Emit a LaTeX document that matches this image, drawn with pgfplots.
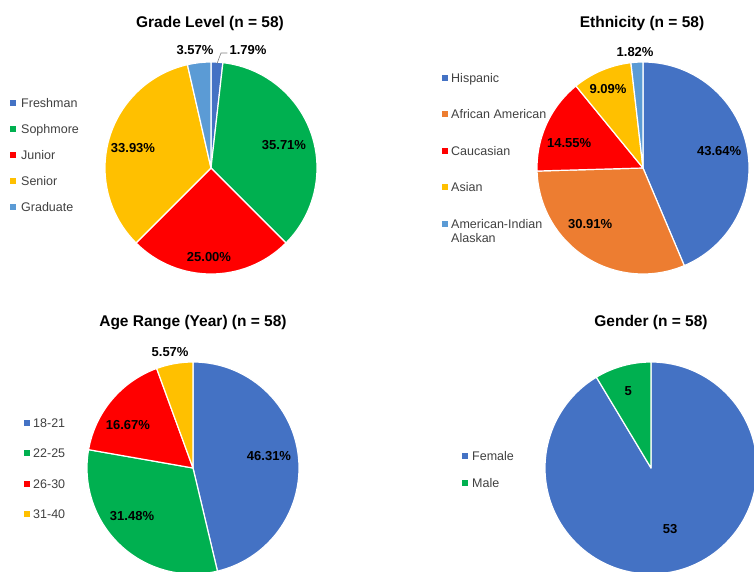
\documentclass[border=0pt]{standalone}
\usepackage{pgfplots}
\usepackage{pgfplotstable}
\pgfplotsset{compat=1.18}
\usepackage{fontspec}
\setmainfont{Liberation Sans}

\definecolor{pieblue}{HTML}{4472C4}
\definecolor{piegreen}{HTML}{00B050}
\definecolor{piered}{HTML}{FF0000}
\definecolor{pieyellow}{HTML}{FFC000}
\definecolor{pielight}{HTML}{5B9BD5}
\definecolor{pieorange}{HTML}{ED7D31}
\definecolor{legtext}{HTML}{404040}

% value, slice colour, label radius (pie radii), label angle (deg)
\pgfplotstableread[col sep=comma]{
value,color,lr,la
1.79,pieblue,1.167,72.6
35.71,piegreen,0.722,17.5
25.00,piered,0.840,-91.3
33.93,pieyellow,0.760,165.6
3.57,pielight,1.123,97.7
}\gradetable

\pgfplotstableread[col sep=comma]{
value,color,lr,la
43.64,pieblue,0.736,12.6
30.91,pieorange,0.726,-133.4
14.55,piered,0.736,161.3
9.09,pieyellow,0.815,113.9
1.82,pielight,1.097,93.9
}\ethnictable

\pgfplotstableread[col sep=comma]{
value,color,lr,la
46.31,pieblue,0.726,9.0
31.48,piegreen,0.732,-141.8
16.67,piered,0.736,146.5
5.57,pieyellow,1.113,101.2
}\agetable

\pgfplotstableread[col sep=comma]{
value,color,lr,la
53,pieblue,0.604,-72.7
5,piegreen,0.755,106.6
}\gendertable

\newcommand{\titlefont}{\fontsize{15.5}{18}\selectfont\bfseries}
\newcommand{\labelfont}{\fontsize{13}{15}\selectfont\bfseries}
\newcommand{\legendfont}{\fontsize{12.5}{14.5}\selectfont}

% Slices run clockwise from 12 o'clock; #2 is appended to each value label
\newcommand{\drawpie}[2]{%
  \pgfplotsextra{%
    \pgfplotstablegetrowsof{#1}%
    \pgfmathtruncatemacro\lastrow{\pgfplotsretval-1}%
    \def\pietotal{0}%
    \pgfplotsforeachungrouped \r in {0,...,\lastrow}{%
      \pgfplotstablegetelem{\r}{value}\of{#1}%
      \pgfmathsetmacro\pietotal{\pietotal+\pgfplotsretval}%
    }%
    \def\pieangle{90}%
    \pgfplotsforeachungrouped \r in {0,...,\lastrow}{%
      \pgfplotstablegetelem{\r}{value}\of{#1}\let\pieval\pgfplotsretval
      \pgfplotstablegetelem{\r}{color}\of{#1}\let\piecol\pgfplotsretval
      \pgfmathsetmacro\piefrac{\pieval/\pietotal}%
      \pgfmathsetmacro\endangle{\pieangle-360*\piefrac}%
      \pgfmathsetmacro\sx{cos(\pieangle)}%
      \pgfmathsetmacro\sy{sin(\pieangle)}%
      \filldraw[fill=\piecol, draw=white, line width=1.2pt, line join=round]
        (axis cs:0,0) -- (axis cs:\sx,\sy)
        arc[start angle=\pieangle, end angle=\endangle, radius=106pt] -- cycle;
      \let\pieangle\endangle
    }%
    \pgfplotsforeachungrouped \r in {0,...,\lastrow}{%
      \pgfplotstablegetelem{\r}{value}\of{#1}\let\pieval\pgfplotsretval
      \pgfplotstablegetelem{\r}{lr}\of{#1}\let\pielr\pgfplotsretval
      \pgfplotstablegetelem{\r}{la}\of{#1}\let\piela\pgfplotsretval
      \pgfmathsetmacro\lx{\pielr*cos(\piela)}%
      \pgfmathsetmacro\ly{\pielr*sin(\piela)}%
      \node[font=\labelfont, text=black, inner sep=0pt] at (axis cs:\lx,\ly) {\pieval#2};
    }%
  }%
}

\pgfplotsset{
  pieaxis/.style={
    anchor=center, x=106pt, y=106pt,
    xmin=-1, xmax=1, ymin=-1, ymax=1,
    hide axis, clip=false,
  },
}

\begin{document}
\begin{tikzpicture}[x=1pt, y=1pt]
\useasboundingbox (0,0) rectangle (754,571);
\clip (0,0) rectangle (754,571);

% ---- Grade level ----
\node[font=\titlefont] at (210,548) {Grade Level (n = 58)};
\begin{axis}[pieaxis, at={(211pt,403pt)}]
  \drawpie{\gradetable}{\%}
  \draw[gray, line width=0.6pt] (axis cs:0.057,0.985) -- (axis cs:0.094,1.085) -- (axis cs:0.155,1.085);
\end{axis}
\foreach \yy/\cc/\lbl in {468/pieblue/Freshman, 442/piegreen/Sophmore, 416/piered/Junior, 390/pieyellow/Senior, 364/pielight/Graduate}{
  \fill[\cc] (10,\yy-3) rectangle (16,\yy+3);
  \node[font=\legendfont, text=legtext, anchor=north west, inner sep=0pt] at (21,\yy+4.8) {\lbl};
}

% ---- Ethnicity ----
\node[font=\titlefont] at (642,548) {Ethnicity (n = 58)};
\begin{axis}[pieaxis, at={(643pt,403pt)}]
  \drawpie{\ethnictable}{\%}
\end{axis}
\foreach \yy/\cc/\lbl in {493/pieblue/Hispanic, 457/pieorange/African American, 420/piered/Caucasian, 384/pieyellow/Asian, 347/pielight/{American-Indian\\Alaskan}}{
  \fill[\cc] (442,\yy-3) rectangle (448,\yy+3);
  \node[font=\legendfont, text=legtext, anchor=north west, inner sep=0pt, align=left] at (451,\yy+4.8) {\lbl};
}

% ---- Age range ----
\node[font=\titlefont] at (193,248) {Age Range (Year) (n = 58)};
\begin{axis}[pieaxis, at={(193pt,103pt)}]
  \drawpie{\agetable}{\%}
\end{axis}
\foreach \yy/\cc/\lbl in {148/pieblue/18-21, 118/piegreen/22-25, 87/piered/26-30, 57/pieyellow/31-40}{
  \fill[\cc] (24,\yy-3) rectangle (30,\yy+3);
  \node[font=\legendfont, text=legtext, anchor=north west, inner sep=0pt] at (33,\yy+4.8) {\lbl};
}

% ---- Gender ----
\node[font=\titlefont] at (651,249) {Gender (n = 58)};
\begin{axis}[pieaxis, at={(651pt,103pt)}]
  \drawpie{\gendertable}{}
\end{axis}
\foreach \yy/\cc/\lbl in {115/pieblue/Female, 88/piegreen/Male}{
  \fill[\cc] (462,\yy-3) rectangle (468,\yy+3);
  \node[font=\legendfont, text=legtext, anchor=north west, inner sep=0pt] at (472,\yy+4.8) {\lbl};
}
\end{tikzpicture}
\end{document}
